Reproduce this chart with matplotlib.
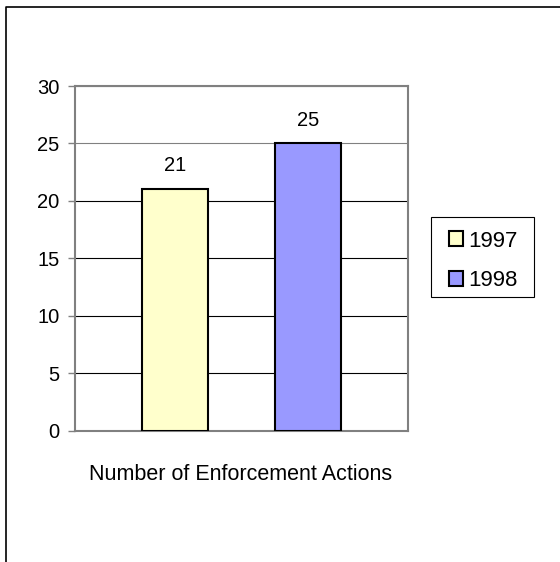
import matplotlib
matplotlib.use("Agg")
import matplotlib.pyplot as plt
from matplotlib.lines import Line2D
from matplotlib.patches import Rectangle

years = ["1997", "1998"]
values = [21, 25]
colors = ["#FFFFCC", "#9999FF"]
category = "Number of Enforcement Actions"
yticks = [0, 5, 10, 15, 20, 25, 30]

plt.rcParams['font.family'] = ['Liberation Sans', 'DejaVu Sans']

W, H = 560, 562
fig = plt.figure(figsize=(W / 100, H / 100), dpi=100)
ax = fig.add_axes([75 / W, 1 - 430.5 / H, (407.5 - 75) / W, (430.5 - 86) / H])

positions = [1.5, 3.5]
bars = ax.bar(positions, values, width=1.0, color=colors, edgecolor="black",
              linewidth=1.5, label=years, zorder=3)
for b, v in zip(bars, values):
    ax.annotate(str(v), (b.get_x() + b.get_width() / 2, v), xytext=(0, 10),
                textcoords="offset points", ha="center", va="bottom", fontsize=14.5)

ax.set_xlim(0, 5)
ax.set_ylim(0, 30)
ax.set_yticks(yticks)
ax.set_xticks([])
ax.tick_params(axis="y", direction="out", length=5, width=1, color="#808080",
               labelsize=14.5, pad=6)
for s in ax.spines.values():
    s.set_color("#808080")
    s.set_linewidth(1.5)
ax.grid(axis="y", color="black", linewidth=0.8, zorder=0)
for t, gl in zip(yticks, ax.yaxis.get_gridlines()):
    if t >= 25:
        gl.set_color("#808080")
ax.set_axisbelow(True)

fig.text(241 / W, 1 - 475 / H, category, ha="center", va="center", fontsize=15.5)

# legend box
fig.add_artist(Rectangle((431 / W, 1 - 297 / H), (534 - 431) / W, (297 - 217) / H,
                         transform=fig.transFigure, facecolor="white",
                         edgecolor="black", linewidth=0.8))
handles = [Rectangle((0, 0), 1, 1, facecolor=c, edgecolor="black", linewidth=1.5)
           for c in colors]
leg = fig.legend(handles, years, loc="center", bbox_to_anchor=(483 / W, 1 - 261 / H),
                 fontsize=16, frameon=False, handlelength=0.65,
                 handleheight=0.65, handletextpad=0.2, labelspacing=0.85,
                 borderpad=0, borderaxespad=0)

fig.add_artist(Line2D([5.5 / W, 5.5 / W, 1.0], [0, 1 - 6.5 / H, 1 - 6.5 / H],
                      transform=fig.transFigure, color="black", linewidth=1.2))

fig.savefig("out.png", dpi=100)
